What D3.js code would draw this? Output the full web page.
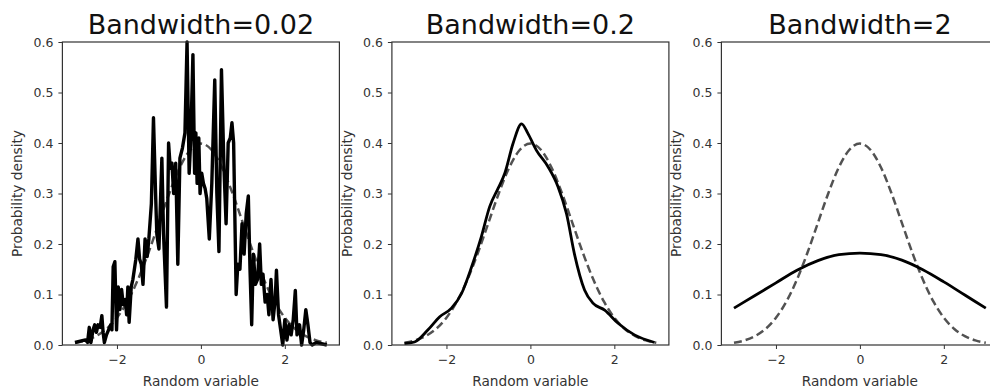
<!DOCTYPE html>
<html>
<head>
<meta charset="utf-8">
<script src="https://cdn.jsdelivr.net/npm/d3@7"></script>
<style>
  body { margin: 0; background: #fff; }
  svg { display: block; font-family: "DejaVu Sans", sans-serif; }
</style>
</head>
<body>
<svg id="chart"></svg>
<script>
// titles and ticks
const panelTitles = ["Bandwidth=0.02", "Bandwidth=0.2", "Bandwidth=2"];
const xTicks = [-2, 0, 2];
const yTicks = [0, 0.1, 0.2, 0.3, 0.4, 0.5, 0.6];

// true density (dashed), same in every panel
const trueDensity = [
    [-3, 0.0044], [-2.75, 0.0091], [-2.5, 0.0175], [-2.25, 0.0317], [-2, 0.054],
    [-1.75, 0.0863], [-1.5, 0.1295], [-1.25, 0.1826], [-1, 0.242], [-0.75, 0.3011],
    [-0.5, 0.3521], [-0.25, 0.3867], [0, 0.3989], [0.25, 0.3867], [0.5, 0.3521],
    [0.75, 0.3011], [1, 0.242], [1.25, 0.1826], [1.5, 0.1295], [1.75, 0.0863],
    [2, 0.054], [2.25, 0.0317], [2.5, 0.0175], [2.75, 0.0091], [3, 0.0044]
];

// kde, bandwidth 0.02
const kdeNarrow = [
    [-3.00, 0.005], [-2.85, 0.008], [-2.75, 0.01], [-2.70, 0.005], [-2.66, 0.035],
    [-2.62, 0.005], [-2.57, 0.03], [-2.53, 0.04], [-2.49, 0.025], [-2.45, 0.04],
    [-2.40, 0.035], [-2.36, 0.058], [-2.33, 0.025], [-2.30, 0.005], [-2.25, 0.02],
    [-2.20, 0.03], [-2.15, 0.04], [-2.12, 0.03], [-2.09, 0.155], [-2.05, 0.165],
    [-2.01, 0.03], [-1.97, 0.115], [-1.93, 0.07], [-1.89, 0.11], [-1.85, 0.08],
    [-1.80, 0.09], [-1.77, 0.06], [-1.74, 0.115], [-1.71, 0.045], [-1.66, 0.115],
    [-1.62, 0.13], [-1.55, 0.17], [-1.50, 0.21], [-1.46, 0.17], [-1.42, 0.16],
    [-1.38, 0.12], [-1.33, 0.21], [-1.28, 0.175], [-1.24, 0.21], [-1.18, 0.28],
    [-1.13, 0.45], [-1.08, 0.30], [-1.05, 0.22], [-1.00, 0.19], [-0.93, 0.37],
    [-0.89, 0.22], [-0.82, 0.075], [-0.77, 0.40], [-0.73, 0.35], [-0.69, 0.36],
    [-0.65, 0.30], [-0.60, 0.36], [-0.55, 0.16], [-0.50, 0.37], [-0.44, 0.39],
    [-0.38, 0.42], [-0.33, 0.60], [-0.28, 0.34], [-0.24, 0.41], [-0.19, 0.575],
    [-0.15, 0.34], [-0.12, 0.42], [-0.09, 0.32], [-0.05, 0.41], [-0.02, 0.30],
    [0.02, 0.34], [0.06, 0.32], [0.10, 0.31], [0.14, 0.29], [0.20, 0.21],
    [0.26, 0.32], [0.33, 0.525], [0.38, 0.30], [0.43, 0.185], [0.49, 0.545],
    [0.55, 0.35], [0.60, 0.24], [0.65, 0.40], [0.70, 0.41], [0.74, 0.44],
    [0.78, 0.40], [0.84, 0.10], [0.88, 0.16], [0.93, 0.15], [0.98, 0.24],
    [1.03, 0.18], [1.08, 0.26], [1.13, 0.295], [1.17, 0.15], [1.21, 0.04],
    [1.25, 0.18], [1.30, 0.12], [1.35, 0.13], [1.40, 0.20], [1.44, 0.12],
    [1.48, 0.14], [1.53, 0.085], [1.58, 0.10], [1.62, 0.06], [1.67, 0.13],
    [1.72, 0.05], [1.77, 0.09], [1.80, 0.148], [1.85, 0.06], [1.90, 0.03],
    [1.95, 0.0], [2.00, 0.05], [2.05, 0.01], [2.10, 0.04], [2.15, 0.02],
    [2.20, 0.05], [2.25, 0.108], [2.29, 0.02], [2.35, 0.04], [2.40, 0.0],
    [2.45, 0.03], [2.50, 0.07], [2.55, 0.04], [2.60, 0.005], [2.65, 0.0],
    [2.75, 0.005], [2.85, 0.003], [3.00, 0.0]
];

// kde, bandwidth 0.2
const kdeMid = [
    [-3.00, 0.003], [-2.76, 0.006], [-2.44, 0.03], [-2.16, 0.056], [-1.88, 0.073],
    [-1.64, 0.102], [-1.40, 0.155], [-1.17, 0.214], [-0.97, 0.274], [-0.77, 0.31],
    [-0.61, 0.34], [-0.41, 0.40], [-0.21, 0.438], [-0.06, 0.419], [0.14, 0.386],
    [0.42, 0.353], [0.66, 0.313], [0.86, 0.26], [1.05, 0.18], [1.29, 0.109],
    [1.49, 0.083], [1.77, 0.069], [2.09, 0.043], [2.48, 0.02], [2.96, 0.005]
];

// kde, bandwidth 2
const kdeWide = [
    [-3, 0.073], [-2.5, 0.098], [-2, 0.123], [-1.5, 0.148], [-1, 0.167],
    [-0.5, 0.179], [0, 0.182], [0.5, 0.179], [1, 0.168], [1.5, 0.149],
    [2, 0.125], [2.5, 0.099], [3, 0.073]
];

const kdes = [kdeNarrow, kdeMid, kdeWide];

const dimensions = {
    width: 990,
    height: 389,
    panelLeft: [62.4, 391.9, 721.4],
    panelWidth: 277,
    top: 42,
    bottom: 345
};

const svg = d3.select("#chart")
    .attr("width", dimensions.width)
    .attr("height", dimensions.height);

const yScale = d3.scaleLinear()
    .domain([0, 0.6])
    .range([dimensions.bottom, dimensions.top]);

panelTitles.forEach((title, i) => {
    const left = dimensions.panelLeft[i];
    const xScale = d3.scaleLinear()
        .domain([-3.3, 3.3])
        .range([left, left + dimensions.panelWidth]);

    const g = svg.append("g");

    // kde curve
    const line = d3.line()
        .x(d => xScale(d[0]))
        .y(d => yScale(d[1]))
        .curve(i === 0 ? d3.curveLinear : d3.curveMonotoneX);

    g.append("path")
        .datum(kdes[i])
        .attr("d", line)
        .attr("fill", "none")
        .attr("stroke", "#000")
        .attr("stroke-width", i === 0 ? 3.4 : 2.8)
        .attr("stroke-linejoin", "round");

    // true density, dashed
    g.append("path")
        .datum(trueDensity)
        .attr("d", line.curve(d3.curveMonotoneX))
        .attr("fill", "none")
        .attr("stroke", "#000")
        .attr("stroke-opacity", 0.68)
        .attr("stroke-width", 2.5)
        .attr("stroke-dasharray", "8,4");

    // frame
    g.append("rect")
        .attr("x", left)
        .attr("y", dimensions.top)
        .attr("width", dimensions.panelWidth)
        .attr("height", dimensions.bottom - dimensions.top)
        .attr("fill", "none")
        .attr("stroke", "#333")
        .attr("stroke-width", 1.2);

    // axes
    const xAxis = g.append("g")
        .attr("transform", `translate(0, ${dimensions.bottom})`)
        .call(d3.axisBottom(xScale).tickValues(xTicks).tickFormat(d3.format("d")).tickSize(4).tickPadding(6).tickSizeOuter(0));
    const yAxis = g.append("g")
        .attr("transform", `translate(${left}, 0)`)
        .call(d3.axisLeft(yScale).tickValues(yTicks).tickFormat(d3.format(".1f")).tickSize(4).tickPadding(5).tickSizeOuter(0));

    [xAxis, yAxis].forEach(ax => {
        ax.select(".domain").remove();
        ax.selectAll("line").attr("stroke", "#333");
        ax.selectAll("text")
            .style("font-family", "DejaVu Sans")
            .style("font-size", "12.5px")
            .attr("fill", "#333");
    });

    // axis labels
    g.append("text")
        .attr("x", left + dimensions.panelWidth / 2)
        .attr("y", 385.5)
        .attr("text-anchor", "middle")
        .attr("fill", "#333")
        .style("font-size", "13.7px")
        .text("Random variable");

    g.append("text")
        .attr("transform", `translate(${left - 40}, ${(dimensions.top + dimensions.bottom) / 2}) rotate(-90)`)
        .attr("text-anchor", "middle")
        .attr("fill", "#333")
        .style("font-size", "13.7px")
        .text("Probability density");

    // title
    g.append("text")
        .attr("x", left + dimensions.panelWidth / 2)
        .attr("y", 34)
        .attr("text-anchor", "middle")
        .attr("fill", "#111")
        .style("font-size", "27px")
        .text(title);
});
</script>
</body>
</html>
